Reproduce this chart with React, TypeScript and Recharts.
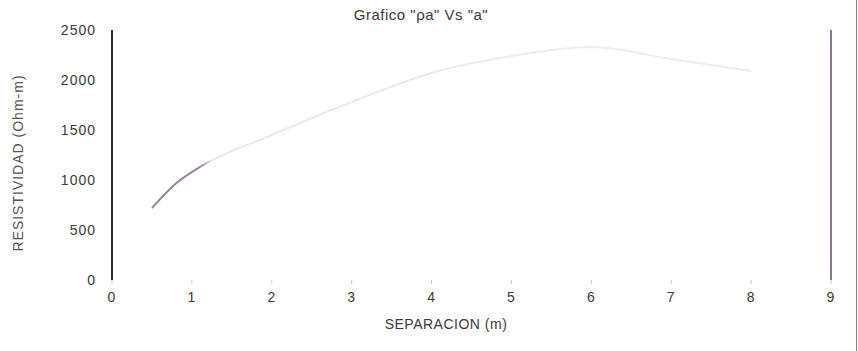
import React from 'react';
import { LineChart, Line, XAxis, YAxis, ReferenceLine } from 'recharts';

// Sondeo: separación de electrodos vs resistividad aparente
const separacion = [0.5, 0.8, 1.1, 2, 3, 4, 5, 6, 7, 8];
const resistividad = [720, 965, 1130, 1450, 1780, 2070, 2240, 2330, 2210, 2090];
const xTicks = [0, 1, 2, 3, 4, 5, 6, 7, 8, 9];
const yTicks = [0, 500, 1000, 1500, 2000, 2500];

const data = separacion.map((a, i) => ({ a, rho: resistividad[i] }));

const font = '"Liberation Sans", Arial, sans-serif';
const ink = '#3a3a3a';
const purple = '#8d7490';

export default function App() {
  return (
    <div style={{ position: 'absolute', left: 0, top: 0, width: 858, height: 351, background: '#fff', fontFamily: font }}>
      <LineChart width={858} height={351} data={data} margin={{ top: 30, right: 27, bottom: 41, left: 0 }}>
        <defs>
          <linearGradient id="curveFade" x1="0" y1="0" x2="1" y2="0">
            <stop offset="0%" stopColor="#9a80a0" />
            <stop offset="8%" stopColor="#9a80a0" />
            <stop offset="10%" stopColor="#ece8ed" />
            <stop offset="100%" stopColor="#f0ecf0" />
          </linearGradient>
        </defs>
        <XAxis
          dataKey="a"
          type="number"
          domain={[0, 9]}
          ticks={xTicks}
          axisLine={false}
          tickSize={4}
          tickMargin={8}
          tickLine={{ stroke: '#c8c8c8' }}
          tick={{ fill: ink, fontSize: 14, fontFamily: font, letterSpacing: 1 }}
        />
        <YAxis
          type="number"
          domain={[0, 2500]}
          ticks={yTicks}
          width={112}
          axisLine={{ stroke: '#2a2a2a', strokeWidth: 2 }}
          tickLine={false}
          tickMargin={10}
          tick={{ fill: ink, fontSize: 14, fontFamily: font, letterSpacing: 1 }}
        />
        <ReferenceLine x={9} stroke={purple} strokeWidth={2} />
        <Line
          type="monotone"
          dataKey="rho"
          stroke="url(#curveFade)"
          strokeWidth={2}
          dot={false}
          isAnimationActive={false}
        />
      </LineChart>
      <div style={{ position: 'absolute', left: 0, width: 842, top: 6, textAlign: 'center', fontSize: 15, color: ink, letterSpacing: 0.5 }}>
        Grafico "ρa" Vs "a"
      </div>
      <div style={{ position: 'absolute', left: 0, width: 892, top: 316, textAlign: 'center', fontSize: 14, color: ink, letterSpacing: 0.5 }}>
        SEPARACION (m)
      </div>
      <div
        style={{
          position: 'absolute',
          left: 18,
          top: 163,
          transform: 'translate(-50%, -50%) rotate(-90deg)',
          whiteSpace: 'nowrap',
          fontSize: 14,
          color: '#555',
          letterSpacing: 1,
        }}
      >
        RESISTIVIDAD (Ohm-m)
      </div>
      <div style={{ position: 'absolute', left: 856, top: 0, width: 1, height: 351, background: purple }} />
    </div>
  );
}
